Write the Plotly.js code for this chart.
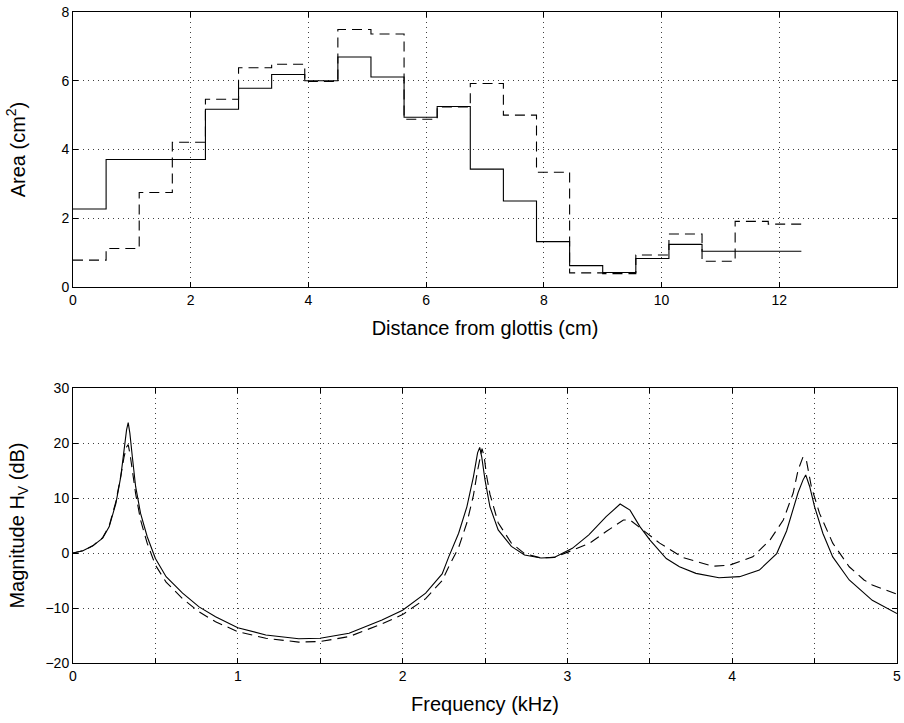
<!DOCTYPE html>
<html>
<head>
<meta charset="utf-8">
<script src="https://cdn.plot.ly/plotly-3.0.1.min.js"></script>
<style>html,body{margin:0;padding:0;background:#fff;}#chart{width:904px;height:723px;}</style>
</head>
<body>
<div id="chart"></div>
<script>
// ---- Top panel: area function (step) ----
const sectionEdges = [0, 0.5625, 1.125, 1.6875, 2.25, 2.8125, 3.375, 3.9375, 4.5, 5.0625, 5.625, 6.1875, 6.75, 7.3125, 7.875, 8.4375, 9.0, 9.5625, 10.125, 10.6875, 11.25, 11.8125, 12.375];
const areaSolid = [2.27, 3.71, 3.71, 3.71, 5.17, 5.78, 6.18, 6.0, 6.69, 6.11, 4.94, 5.25, 3.43, 2.50, 1.32, 0.62, 0.42, 0.83, 1.24, 1.04, 1.04, 1.04];
const areaDashed = [0.78, 1.12, 2.75, 4.21, 5.46, 6.38, 6.48, 5.98, 7.49, 7.36, 4.88, 5.24, 5.92, 5.0, 3.34, 0.41, 0.39, 0.93, 1.54, 0.75, 1.91, 1.83];
const areaTicks = [0, 2, 4, 6, 8, 10, 12];

// ---- Bottom panel: magnitude response ----
const freqSolid = [0, 0.06, 0.12, 0.18, 0.22, 0.26, 0.29, 0.31, 0.325, 0.335, 0.345, 0.36, 0.38, 0.41, 0.45, 0.50, 0.565, 0.665, 0.765, 0.865, 1.0, 1.17, 1.37, 1.5, 1.675, 1.875, 2.0, 2.14, 2.24, 2.28, 2.34, 2.39, 2.43, 2.455, 2.468, 2.48, 2.50, 2.53, 2.58, 2.66, 2.74, 2.84, 2.92, 3.03, 3.13, 3.235, 3.32, 3.38, 3.44, 3.50, 3.60, 3.68, 3.78, 3.92, 4.045, 4.165, 4.27, 4.33, 4.35, 4.38, 4.40, 4.43, 4.446, 4.47, 4.50, 4.55, 4.61, 4.71, 4.85, 5.0];
const magSolid = [0, 0.4, 1.3, 2.7, 4.8, 9.0, 13.9, 18.8, 22.4, 23.7, 21.8, 17.5, 12.1, 7.2, 3.0, -1.0, -4.3, -7.3, -9.8, -11.6, -13.6, -14.9, -15.6, -15.5, -14.6, -12.2, -10.4, -7.3, -3.8, -0.7, 3.6, 8.4, 13.9, 18.2, 19.2, 17.5, 13.3, 8.4, 4.2, 1.2, -0.35, -0.9, -0.8, 0.85, 3.3, 6.6, 8.9, 7.8, 4.8, 2.4, -1.0, -2.5, -3.7, -4.5, -4.3, -3.1, -0.1, 4.0, 6.0, 8.6, 11.0, 13.3, 14.2, 12.1, 8.4, 3.6, -0.7, -4.9, -8.6, -11.0];
const freqDashed = [0, 0.06, 0.12, 0.18, 0.22, 0.26, 0.29, 0.31, 0.325, 0.335, 0.347, 0.36, 0.38, 0.41, 0.45, 0.50, 0.565, 0.665, 0.765, 0.865, 1.0, 1.17, 1.37, 1.5, 1.675, 1.875, 2.0, 2.14, 2.24, 2.28, 2.34, 2.39, 2.43, 2.455, 2.47, 2.482, 2.495, 2.51, 2.53, 2.58, 2.66, 2.74, 2.84, 2.92, 3.01, 3.135, 3.235, 3.34, 3.38, 3.46, 3.56, 3.70, 3.88, 3.985, 4.125, 4.23, 4.31, 4.37, 4.40, 4.43, 4.45, 4.48, 4.53, 4.61, 4.71, 4.80, 4.85, 5.0];
const magDashed = [0, 0.4, 1.3, 2.8, 5.0, 9.3, 14.0, 17.5, 19.3, 19.7, 17.8, 15.0, 10.8, 6.0, 1.8, -2.2, -5.3, -8.3, -10.7, -12.5, -14.3, -15.5, -16.2, -16.1, -15.2, -12.9, -11.2, -8.3, -5.0, -2.5, 1.0, 5.5, 10.5, 15.0, 17.5, 19.0, 17.5, 14.0, 10.7, 5.5, 1.8, -0.1, -0.9, -0.8, 0.25, 1.8, 3.9, 6.0, 6.0, 4.2, 1.8, -0.8, -2.4, -2.2, -0.7, 2.4, 6.0, 10.9, 15.1, 17.5, 16.9, 12.1, 7.2, 1.8, -2.5, -4.9, -5.8, -7.5];

const stepY = v => v.concat([v[v.length - 1]]);

const traces = [
  {x: sectionEdges, y: stepY(areaSolid), mode: 'lines', line: {shape: 'hv', color: '#000', width: 1.1}, xaxis: 'x', yaxis: 'y', hoverinfo: 'skip'},
  {x: sectionEdges, y: stepY(areaDashed), mode: 'lines', line: {shape: 'hv', color: '#000', width: 1.1, dash: '10px,6px'}, xaxis: 'x', yaxis: 'y', hoverinfo: 'skip'},
  {x: freqSolid, y: magSolid, mode: 'lines', line: {color: '#000', width: 1.1}, xaxis: 'x2', yaxis: 'y2', hoverinfo: 'skip'},
  {x: freqDashed, y: magDashed, mode: 'lines', line: {color: '#000', width: 1.1, dash: '10px,6px'}, xaxis: 'x2', yaxis: 'y2', hoverinfo: 'skip'}
];

const font = {family: 'Liberation Sans, Arial, Helvetica, sans-serif', color: '#000'};
const gridStyle = {gridcolor: 'rgba(0,0,0,0.75)', gridwidth: 1, griddash: '1px,4px'};
const axBase = Object.assign({
  showline: true, linecolor: '#000', linewidth: 1, mirror: 'ticks',
  ticks: 'inside', ticklen: 5, tickcolor: '#000', tickwidth: 1,
  showgrid: true, zeroline: false,
  tickfont: {family: font.family, size: 14, color: '#000'}, automargin: false
}, gridStyle);

const layout = {
  width: 904, height: 723,
  margin: {l: 73, r: 7, t: 12, b: 60},
  paper_bgcolor: '#fff', plot_bgcolor: '#fff',
  showlegend: false, font: font,
  xaxis: Object.assign({}, axBase, {domain: [0, 1], range: [0, 14], tickvals: areaTicks, anchor: 'y',
    title: {text: 'Distance from glottis (cm)', font: {family: font.family, size: 20, color: '#000'}, standoff: 14}}),
  yaxis: Object.assign({}, axBase, {domain: [0.5776, 1], range: [0, 8], dtick: 2, anchor: 'x',
    title: {text: 'Area (cm<sup>2</sup>)', font: {family: font.family, size: 20, color: '#000'}, standoff: 30}}),
  xaxis2: Object.assign({}, axBase, {domain: [0, 1], range: [0, 5], tick0: 0, dtick: 1, anchor: 'y2',
    minor: Object.assign({dtick: 0.5, ticks: 'inside', ticklen: 5, tickcolor: '#000', tickwidth: 1, showgrid: true}, gridStyle),
    title: {text: 'Frequency (kHz)', font: {family: font.family, size: 20, color: '#000'}, standoff: 14}}),
  yaxis2: Object.assign({}, axBase, {domain: [0, 0.4224], range: [-20, 30], dtick: 10, anchor: 'x2',
    title: {text: 'Magnitude H<sub>V</sub> (dB)', font: {family: font.family, size: 20, color: '#000'}, standoff: 15}})
};

Plotly.newPlot('chart', traces, layout, {displayModeBar: false, staticPlot: true});
</script>
</body>
</html>
